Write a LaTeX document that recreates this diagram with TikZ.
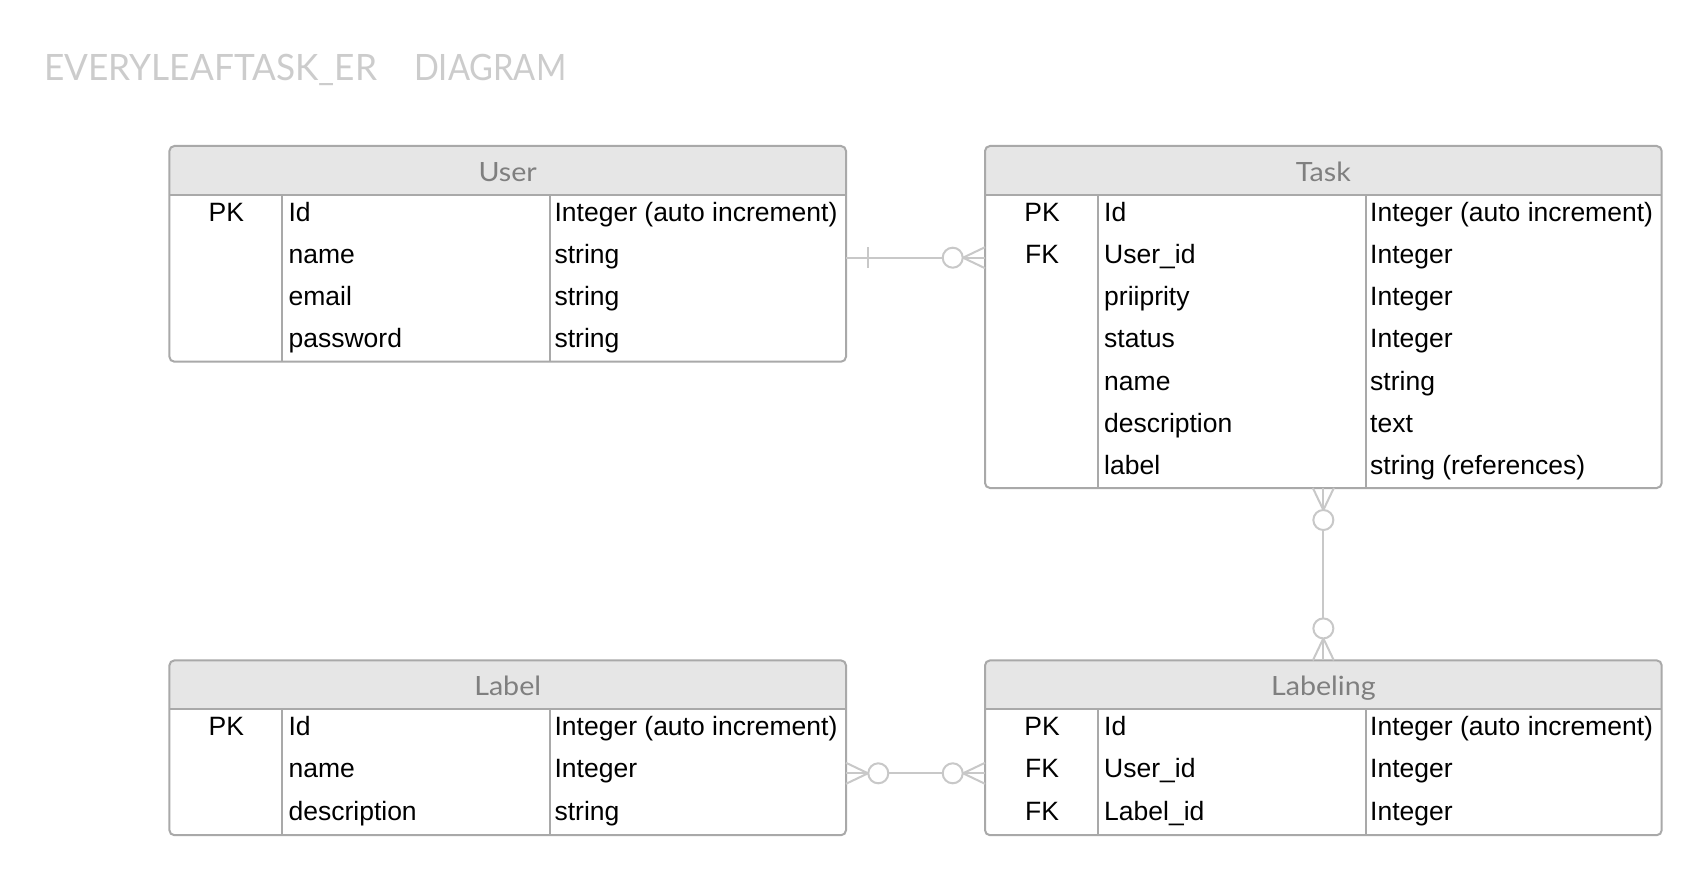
\documentclass[tikz,border=0pt]{standalone}
\usepackage{fontspec}
\setmainfont{Liberation Sans}
\newfontfamily\headfont{Lato}
\usetikzlibrary{calc}
\definecolor{headfill}{HTML}{E6E6E6}
\definecolor{tlinec}{HTML}{A9A9A9}
\definecolor{htextc}{HTML}{7F7F7F}
\definecolor{titlec}{HTML}{CCCCCC}
\definecolor{connc}{HTML}{C8C8C8}
\tikzset{
  tline/.style={draw=tlinec, line width=2pt},
  tbox/.style={draw=tlinec, line width=2pt, rounded corners=5pt, inner sep=0pt, outer sep=0pt},
  htext/.style={anchor=base, inner sep=0pt, text=htextc, font=\headfont\fontsize{26.5pt}{30pt}\selectfont},
  keytext/.style={anchor=base, inner sep=0pt, font=\fontsize{26.5pt}{30pt}\selectfont},
  celltext/.style={anchor=base west, inner sep=0pt, font=\fontsize{26.5pt}{30pt}\selectfont},
  titletext/.style={anchor=base west, inner sep=0pt, text=titlec, font=\headfont\fontsize{36.3pt}{40pt}\selectfont},
  conn/.style={draw=connc, line width=2pt},
}
\newcommand\ertable[7]{%
  \begin{scope}
    \clip[rounded corners=5pt] (#2,#3) rectangle (#4,#5);
    \fill[headfill] (#2,#3) rectangle (#4,#3+49);
  \end{scope}
  \draw[tline] (#2,#3+49) -- (#4,#3+49);
  \draw[tline] (#2+113,#3+49) -- (#2+113,#5);
  \draw[tline] (#2+380.6,#3+49) -- (#2+380.6,#5);
  \node[tbox, minimum width={(#4-#2)*1pt}, minimum height={(#5-#3)*1pt}] (#1) at ({(#2+#4)/2},{(#3+#5)/2}) {};
  \node[htext] (#1-title) at ({(#2+#4)/2},#3+35.5) {\scalebox{1.08}[1]{#6}};
  \foreach \k/\n/\t [count=\i] in {#7} {
    \node[keytext] (#1-k\i) at (#2+57,#3+75.3+\i*42.2-42.2) {\k};
    \node[celltext] (#1-n\i) at (#2+119,#3+75.3+\i*42.2-42.2) {\n};
    \node[celltext] (#1-t\i) at (#2+385,#3+75.3+\i*42.2-42.2) {\t};
  }
}
\begin{document}
\begin{tikzpicture}[x=1pt,y=-1pt]
\useasboundingbox[fill=white] (0,0) rectangle (1703,877);

\node[titletext] (title) at (44,81) {\scalebox{0.97}[1]{EVERYLEAFTASK\_ER}\hspace{37pt}\scalebox{0.9}[1]{DIAGRAM}};

\ertable{user}{169.4}{146}{846}{361.7}{User}{PK/Id/{Integer (auto increment)}, /name/string, /email/string, /password/string}
\ertable{task}{985}{146}{1661.7}{488}{Task}{PK/Id/{Integer (auto increment)}, FK/User\_id/Integer, /priiprity/Integer, /status/Integer, /name/string, /description/text, /label/{string (references)}}
\ertable{label}{169.4}{660.4}{846}{835.2}{Label}{PK/Id/{Integer (auto increment)}, /name/Integer, /description/string}
\ertable{labeling}{985}{660.4}{1661.7}{835.2}{Labeling}{PK/Id/{Integer (auto increment)}, FK/User\_id/Integer, FK/Label\_id/Integer}

% User -- Task (one to zero-or-many)
\coordinate (r1) at (0,257.7);
\coordinate (ut1) at (user.east |- r1);
\coordinate (ut2) at (task.west |- r1);
\draw[conn] (ut1) -- (ut2);
\draw[conn] ($(ut1)+(21.7,-10.5)$) -- ($(ut1)+(21.7,10.5)$);
\draw[conn, fill=white] ($(ut2)+(-32.3,0)$) circle[radius=10];
\draw[conn] ($(ut2)+(-22,0)$) -- ($(ut2)+(0,-10.5)$) ($(ut2)+(-22,0)$) -- ($(ut2)+(0,10.5)$);

% Task -- Labeling (zero-or-many both)
\coordinate (vt) at (task.south);
\coordinate (vl) at (labeling.north);
\draw[conn] (vt) -- (vl);
\draw[conn] ($(vt)+(0,22)$) -- ($(vt)+(-10.5,0)$) ($(vt)+(0,22)$) -- ($(vt)+(10.5,0)$);
\draw[conn, fill=white] ($(vt)+(0,32)$) circle[radius=10];
\draw[conn] ($(vl)+(0,-22)$) -- ($(vl)+(-10.5,0)$) ($(vl)+(0,-22)$) -- ($(vl)+(10.5,0)$);
\draw[conn, fill=white] ($(vl)+(0,-32)$) circle[radius=10];

% Label -- Labeling (zero-or-many both)
\coordinate (r3) at (0,773.3);
\coordinate (ll1) at (label.east |- r3);
\coordinate (ll2) at (labeling.west |- r3);
\draw[conn] (ll1) -- (ll2);
\draw[conn] ($(ll1)+(22,0)$) -- ($(ll1)+(0,-10.5)$) ($(ll1)+(22,0)$) -- ($(ll1)+(0,10.5)$);
\draw[conn, fill=white] ($(ll1)+(32.3,0)$) circle[radius=10];
\draw[conn] ($(ll2)+(-22,0)$) -- ($(ll2)+(0,-10.5)$) ($(ll2)+(-22,0)$) -- ($(ll2)+(0,10.5)$);
\draw[conn, fill=white] ($(ll2)+(-32.3,0)$) circle[radius=10];
\end{tikzpicture}
\end{document}
